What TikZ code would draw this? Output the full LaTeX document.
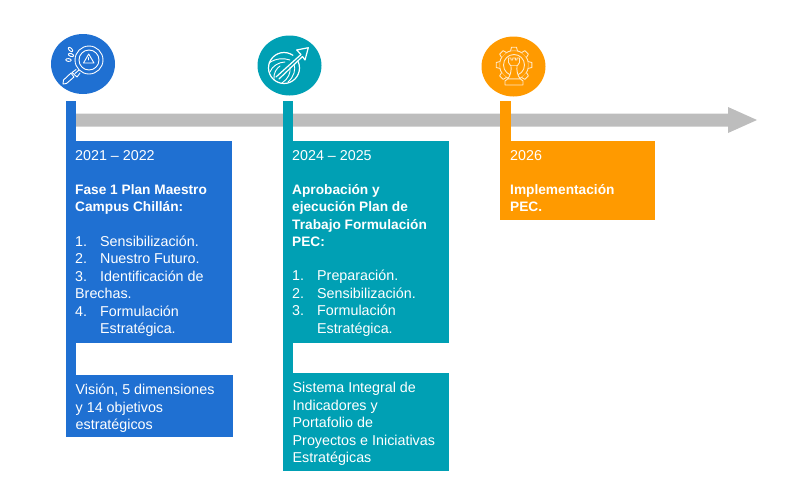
\documentclass[tikz,border=0pt]{standalone}
\usepackage{fontspec}
\usepackage{array}
\setmainfont{Liberation Sans}
\usetikzlibrary{positioning,shapes.geometric}
\definecolor{azul}{HTML}{1F70D2}
\definecolor{turquesa}{HTML}{00A0B4}
\definecolor{naranja}{HTML}{FF9A00}
\definecolor{gris}{HTML}{BDBDBD}
\newcommand{\negrita}[1]{{\fontsize{13.7}{17.5}\selectfont\bfseries #1}}
\tikzset{
	caja/.style={fill=#1, inner sep=0pt, anchor=north west},
	texto/.style={text=white, anchor=north west, inner sep=0pt, font=\fontsize{14.3}{17.5}\selectfont, align=left},
	punto/.style={ellipse, fill=#1, inner sep=0pt, minimum width=64, minimum height=60},
	linea/.style={white, line width=0.9pt, line cap=round, line join=round},
	lineados/.style={white!78!naranja, line width=0.9pt, line cap=round, line join=round}
}
\begin{document}
\begin{tikzpicture}[x=1pt,y=-1pt]
	\useasboundingbox (0,0) rectangle (800,501);
	% flecha
	\fill [gris] (76,113.5) -- (728,113.5) -- (728,107) -- (757,120) -- (728,133) -- (728,126.5) -- (76,126.5) -- cycle;
	% barras y cajas
	\foreach \x/\c/\y in {66/azul/375,283/turquesa/373}
		\fill [\c] (\x,101) rectangle (\x+10,\y);
	\fill [naranja] (500,101) rectangle (511,141);
	\node [caja=azul, minimum width=166, minimum height=202] (caja1) at (66,141) {};
	\node [caja=azul, minimum width=167, minimum height=62] (res1) at (66,375) {};
	\node [caja=turquesa, minimum width=166, minimum height=202] (caja2) at (283,141) {};
	\node [caja=turquesa, minimum width=166, minimum height=98] (res2) at (283,373) {};
	\node [caja=naranja, minimum width=155, minimum height=79] (caja3) at (500,141) {};
	% circulos
	\node [punto=azul] (c1) at (83,64) {};
	\node [punto=turquesa] (c2) at (289.5,65.5) {};
	\node [punto=naranja] (c3) at (513.5,66.5) {};
	% textos
	\node [texto] (a1) at (75,150) {2021 – 2022};
	\node [texto] (b1) at (75,184) {\negrita{Fase 1 Plan Maestro}\\\negrita{Campus Chillán:}};
	\node [texto] (l1) at (75,233.7) {\begin{tabular}{@{}p{25pt}@{}l@{}}
		1.&Sensibilización.\\ 2.&Nuestro Futuro.\\ 3.&Identificación de\\
		\multicolumn{2}{@{}l@{}}{Brechas.}\\ 4.&Formulación\\ &Estratégica.\end{tabular}};
	\node [texto] (r1) at (75.5,384) {Visión, 5 dimensiones\\y 14 objetivos\\estratégicos};
	\node [texto] (a2) at (292,150) {2024 – 2025};
	\node [texto] (b2) at (292,184) {\negrita{Aprobación y}\\\negrita{ejecución Plan de}\\\negrita{Trabajo Formulación}\\\negrita{PEC:}};
	\node [texto] (l2) at (292,268.2) {\begin{tabular}{@{}p{25pt}@{}l@{}}
		1.&Preparación.\\ 2.&Sensibilización.\\ 3.&Formulación\\ &Estratégica.\end{tabular}};
	\node [texto] (r2) at (292.5,382) {Sistema Integral de\\Indicadores y\\Portafolio de\\Proyectos e Iniciativas\\Estratégicas};
	\node [texto] (a3) at (510,150) {2026};
	\node [texto] (b3) at (510,184) {\negrita{Implementación}\\\negrita{PEC.}};
	% lupa
	\draw [linea] (89,60) circle (14);
	\draw [linea] (89,60) circle (10);
	\draw [linea] (83.5,63) -- (94,63) -- (88.7,54) -- cycle;
	\draw [linea] (88.7,57.5) -- (88.7,60);
	\draw [linea] (79,70) -- (75,73.5);
	\draw [linea] (76,69.5) -- (72,72.5) -- (77,77) -- (80,73);
	\draw [linea] (71,73) -- (63.5,80) -- (63,84) -- (66.5,83.5) -- (74,77) -- cycle;
	\foreach \x/\y/\r in {70.5/49.5/-45,71/55/-20,68.5/60/-5}
		\draw [linea, rotate around={\r:(\x,\y)}] (\x,\y) ellipse (2.8 and 1.4);
	% globo
	\draw [linea, line width=1.2pt] (284,68) circle (15.5);
	\draw [turquesa, line width=7pt] (286,66) -- (303,52);
	\draw [linea, line width=1.2pt] (276,77) -- (301,54.5) -- (296.7,50) -- (308.3,47.7) -- (305,60) -- (302.5,56.5) -- (279,79);
	\draw [linea] (269,63) .. controls (276,58) and (284,58) .. (290,60);
	\draw [linea] (270,72) .. controls (272,66) and (279,62) .. (285,62);
	\draw [linea] (274,80) .. controls (273,73) and (277,68) .. (280,66);
	\draw [linea] (288,82) .. controls (294,77) and (296,69) .. (294,64);
	\draw [linea] (282,83) .. controls (288,79) and (291,73) .. (290,67);
	% pieza y engranaje
	\draw [lineados] (514,65) circle (14.5);
	\draw [lineados] (514,65) circle (10.5);
	\foreach \a in {0,45,...,315}
		\draw [lineados, fill=naranja, shift={(514,65)}, rotate=\a] (14.3,-3.4) -- (17.8,-2.5) -- (17.8,2.5) -- (14.3,3.4);
	\draw [lineados, fill=naranja] (508.5,58) -- (508.5,62.5) -- (510.5,65.5) -- (517.5,65.5) -- (519.5,62.5) -- (519.5,58) -- (517,58) -- (517,60) -- (515.3,60) -- (515.3,58) -- (512.7,58) -- (512.7,60) -- (511,60) -- (511,58) -- cycle;
	\draw [lineados, fill=naranja] (511,65.5) .. controls (511.5,71) and (510.5,76) .. (507.5,79) -- (520.5,79) .. controls (517.5,76) and (516.5,71) .. (517,65.5);
	\draw [lineados, fill=naranja] (507.5,79) -- (505,81) -- (505,85) -- (523,85) -- (523,81) -- (520.5,79) -- cycle;
\end{tikzpicture}
\end{document}
